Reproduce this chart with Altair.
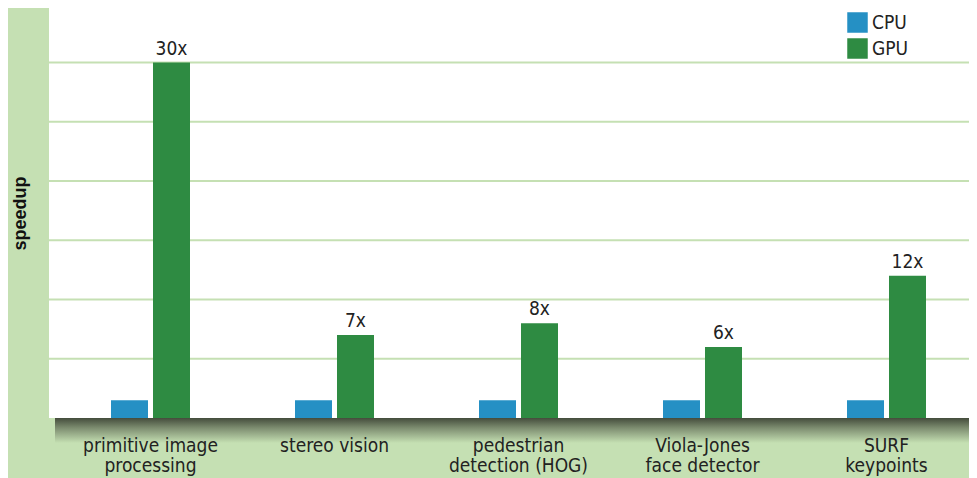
import altair as alt
import pandas as pd

categories = ["primitive image\nprocessing", "stereo vision", "pedestrian\ndetection (HOG)",
              "Viola-Jones\nface detector", "SURF\nkeypoints"]
processors = ["CPU", "GPU"]
cpu_values = [1.5, 1.5, 1.5, 1.5, 1.5]
gpu_values = [30, 7, 8, 6, 12]
gpu_labels = ["30x", "7x", "8x", "6x", "12x"]
grid_values = [5, 10, 15, 20, 25, 30]

BG = "#c5e0b3"
BLUE = "#2590c4"
GREEN = "#2e8b42"
FONT = "DejaVu Sans Condensed"

rows = []
for c, v in zip(categories, cpu_values):
    rows.append({"category": c, "processor": "CPU", "value": v, "label": ""})
for c, v, l in zip(categories, gpu_values, gpu_labels):
    rows.append({"category": c, "processor": "GPU", "value": v, "label": l})
df = pd.DataFrame(rows)
grid_df = pd.DataFrame({"value": grid_values})

W, H = 920, 410
y_scale = alt.Scale(domain=[0, 34.6], nice=False, zero=True)

x_enc = alt.X("category:N", sort=categories,
              scale=alt.Scale(paddingInner=0, paddingOuter=0, range=[9.5, 929.5]),
              axis=alt.Axis(title=None, labelExpr="split(datum.value, '\\n')", labelAngle=0,
                            labelFont=FONT, labelFontSize=19, labelColor="#222222",
                            labelLineHeight=20, labelPadding=18, ticks=False, domain=False,
                            grid=False, zindex=1))
xo_enc = alt.XOffset("processor:N", sort=processors,
                     scale=alt.Scale(paddingInner=0.119, paddingOuter=0, range=[52.5, 131.5]))
y_axis = alt.Axis(grid=False, labels=False, ticks=False, domain=False,
                  title="speedup", titleFont="Liberation Sans", titleFontSize=18,
                  titleFontWeight="bold", titleColor="#111111", titlePadding=20)
y_enc = alt.Y("value:Q", scale=y_scale, axis=y_axis)

grid = alt.Chart(grid_df).mark_rule(color=BG, strokeWidth=2).encode(
    y=alt.Y("value:Q", scale=y_scale, axis=y_axis),
    x=alt.value(0), x2=alt.value(W)
)

base = alt.Chart(df)
bars = base.mark_bar().encode(
    x=x_enc, xOffset=xo_enc, y=y_enc,
    color=alt.Color("processor:N",
                    scale=alt.Scale(domain=processors, range=[BLUE, GREEN]),
                    legend=alt.Legend(title=None, orient="none", legendX=798, legendY=4,
                                      symbolType="square", symbolSize=420,
                                      symbolStrokeWidth=0, labelFont=FONT,
                                      labelFontSize=19, labelColor="#222222",
                                      rowPadding=5, padding=0, labelOffset=4))
)
texts = base.transform_filter(alt.datum.processor == "GPU").mark_text(
    baseline="alphabetic", dy=-8, font=FONT, fontSize=19, color="#222222"
).encode(x=alt.X("category:N", sort=categories), xOffset=alt.XOffset("processor:N", sort=processors),
         y="value:Q", text="label:N")

shadow = alt.Chart(pd.DataFrame({"s": [0]})).mark_rect(
    color=alt.Gradient(gradient="linear",
                       stops=[alt.GradientStop(color="#444c3c", offset=0),
                              alt.GradientStop(color="#7d8d70", offset=0.4),
                              alt.GradientStop(color=BG, offset=1)],
                       x1=0, x2=0, y1=0, y2=1)
).encode(x=alt.value(6), x2=alt.value(W), y=alt.value(H), y2=alt.value(H + 25))

chart = alt.layer(grid, bars, shadow, texts).properties(
    width=W, height=H, background=BG,
    padding={"left": 41, "top": 0, "right": 0, "bottom": 60},
    autosize=alt.AutoSizeParams(type="none")
).configure_view(fill="white", stroke=None)

chart.save("out.html", embed_options={"renderer": "svg", "actions": False})
